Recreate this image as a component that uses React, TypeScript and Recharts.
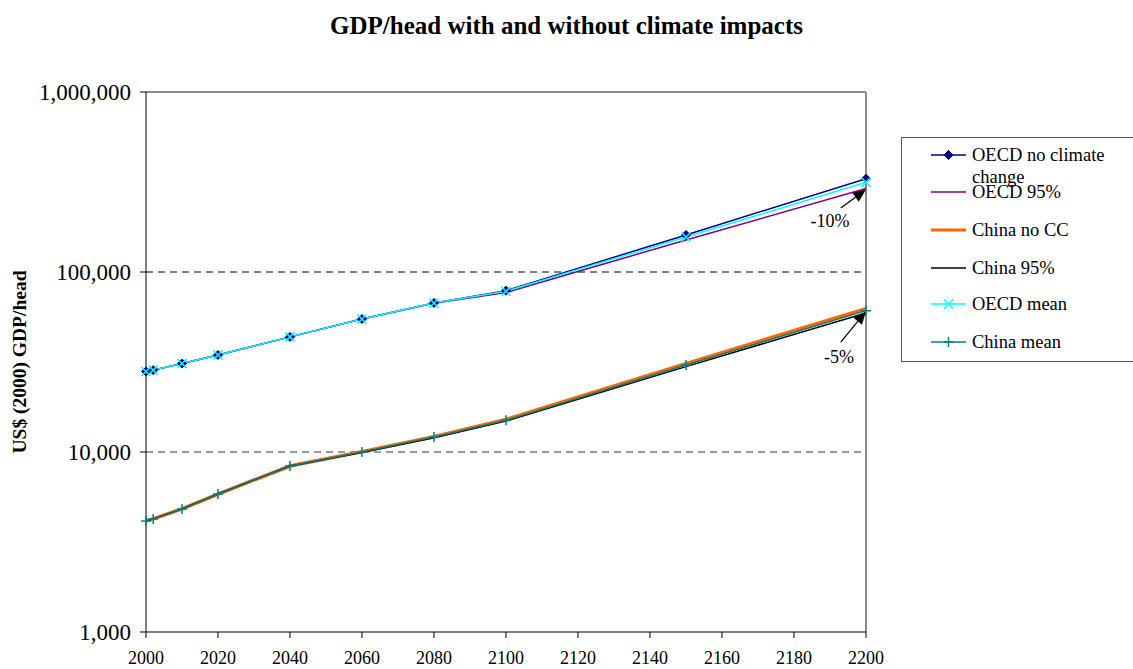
import {
  LineChart,
  Line,
  XAxis,
  YAxis,
  ReferenceLine,
  ReferenceDot,
} from 'recharts';

const years = [2000, 2002, 2010, 2020, 2040, 2060, 2080, 2100, 2150, 2200];
const oecdNoCC = [28000, 28500, 31000, 34600, 43600, 54800, 67300, 78800, 160600, 330000];
const oecd95 = [28000, 28500, 31000, 34600, 43600, 54800, 67000, 77000, 150600, 291000];
const chinaNoCC = [4140, 4250, 4830, 5840, 8360, 10050, 12150, 15150, 31000, 62500];
const china95 = [4140, 4250, 4830, 5840, 8360, 9950, 12000, 14850, 29800, 59200];
const oecdMean = [28000, 28500, 31000, 34600, 43600, 54800, 67200, 78200, 156400, 315000];
const chinaMean = [4140, 4250, 4830, 5840, 8360, 10000, 12100, 15000, 30400, 61000];

const yTicks = [1000, 10000, 100000, 1000000];
const xTicks = [2000, 2020, 2040, 2060, 2080, 2100, 2120, 2140, 2160, 2180, 2200];

const data = years.map((year, i) => ({
  year,
  oecdNoCC: oecdNoCC[i],
  oecd95: oecd95[i],
  chinaNoCC: chinaNoCC[i],
  china95: china95[i],
  oecdMean: oecdMean[i],
  chinaMean: chinaMean[i],
}));

const FONT = '"Liberation Serif", "Times New Roman", serif';

const Diamond = (props: any) => {
  const { cx, cy, index } = props;
  return (
    <polygon
      key={`d-${index}`}
      points={`${cx},${cy - 4.5} ${cx + 4.5},${cy} ${cx},${cy + 4.5} ${cx - 4.5},${cy}`}
      fill="#000080"
      stroke="#000080"
    />
  );
};

const Cross = (props: any) => {
  const { cx, cy, index } = props;
  const r = 4.5;
  return (
    <path
      key={`x-${index}`}
      d={`M${cx - r},${cy - r}L${cx + r},${cy + r}M${cx - r},${cy + r}L${cx + r},${cy - r}`}
      stroke="#00FFFF"
      strokeWidth={1.5}
    />
  );
};

const Plus = (props: any) => {
  const { cx, cy, index } = props;
  const r = 5;
  return (
    <path
      key={`p-${index}`}
      d={`M${cx - r},${cy}L${cx + r},${cy}M${cx},${cy - r}L${cx},${cy + r}`}
      stroke="#008080"
      strokeWidth={1.5}
    />
  );
};

// arrow pointing at the end values
const Arrow = (props: any) => {
  const { x1, y1, x2, y2 } = props;
  const ang = Math.atan2(y2 - y1, x2 - x1);
  const len = 13;
  const half = 5.5;
  const bx = x2 - len * Math.cos(ang);
  const by = y2 - len * Math.sin(ang);
  const px = -Math.sin(ang) * half;
  const py = Math.cos(ang) * half;
  return (
    <g>
      <line x1={x1} y1={y1} x2={bx} y2={by} stroke="#000" strokeWidth={1.2} />
      <polygon points={`${x2},${y2} ${bx + px},${by + py} ${bx - px},${by - py}`} fill="#000" />
    </g>
  );
};

const legendItems = [
  { name: 'OECD no climate change', color: '#000080', width: 1.5, marker: 'diamond', y: 155 },
  { name: 'OECD 95%', color: '#800080', width: 1.5, marker: '', y: 192 },
  { name: 'China no CC', color: '#FF6600', width: 3, marker: '', y: 230 },
  { name: 'China 95%', color: '#000000', width: 1.5, marker: '', y: 268 },
  { name: 'OECD mean', color: '#00FFFF', width: 1.5, marker: 'cross', y: 304 },
  { name: 'China mean', color: '#008080', width: 1.5, marker: 'plus', y: 342 },
];

const fmt = (v: number) => v.toLocaleString('en-US');

export default function App() {
  return (
    <div style={{ position: 'absolute', left: 0, top: 0, width: 1133, height: 669, background: '#fff', fontFamily: FONT }}>
      <div
        style={{
          position: 'absolute',
          left: 0,
          width: 1133,
          top: 11,
          textAlign: 'center',
          fontWeight: 'bold',
          fontSize: 25,
          lineHeight: '30px',
        }}
      >
        GDP/head with and without climate impacts
      </div>
      <LineChart
        width={1133}
        height={669}
        data={data}
        margin={{ top: 92, right: 267, bottom: 0, left: 0 }}
        style={{ position: 'absolute', left: 0, top: 0 }}
      >
        <XAxis
          dataKey="year"
          type="number"
          domain={[2000, 2200]}
          ticks={xTicks}
          height={37}
          stroke="#000"
          tickSize={6}
          tickMargin={13}
          tick={{ fill: '#000', fontSize: 18, fontFamily: FONT }}
          interval={0}
        />
        <YAxis
          type="number"
          scale="log"
          domain={[1000, 1000000]}
          ticks={yTicks}
          width={146}
          stroke="#000"
          tickSize={6}
          tickMargin={9}
          tickFormatter={fmt}
          tick={{ fill: '#000', fontSize: 23, fontFamily: FONT }}
          allowDataOverflow
          label={{
            value: 'US$ (2000) GDP/head',
            angle: -90,
            position: 'insideLeft',
            offset: 19,
            style: { fontWeight: 'bold', fontSize: 19.5, fill: '#000', fontFamily: FONT, textAnchor: 'middle' },
          }}
        />
        <ReferenceLine y={1000000} stroke="#8c8c8c" strokeWidth={2} />
        <ReferenceLine x={2200} stroke="#8c8c8c" strokeWidth={2} />
        <ReferenceLine y={100000} stroke="#000" strokeDasharray="7 5" />
        <ReferenceLine y={10000} stroke="#000" strokeDasharray="7 5" strokeWidth={0.8} />

        <Line dataKey="oecdNoCC" stroke="#000080" strokeWidth={1.5} dot={Diamond} isAnimationActive={false} />
        <Line dataKey="oecd95" stroke="#800080" strokeWidth={1.5} dot={false} isAnimationActive={false} />
        <Line dataKey="chinaNoCC" stroke="#FF6600" strokeWidth={3.5} dot={false} isAnimationActive={false} />
        <Line dataKey="china95" stroke="#000000" strokeWidth={1.5} dot={false} isAnimationActive={false} />
        <Line dataKey="oecdMean" stroke="#00FFFF" strokeWidth={1.5} dot={Cross} isAnimationActive={false} />
        <Line dataKey="chinaMean" stroke="#008080" strokeWidth={1.5} dot={Plus} isAnimationActive={false} />

        <ReferenceLine
          segment={[{ x: 2193, y: 226800 }, { x: 2200, y: 287000 }]}
          shape={Arrow}
        />
        <ReferenceLine
          segment={[{ x: 2193, y: 40800 }, { x: 2200, y: 60500 }]}
          shape={Arrow}
        />
        <ReferenceDot
          x={2190}
          y={192000}
          r={0}
          fill="none"
          stroke="none"
          label={{ value: '-10%', position: 'center', fill: '#000', fontSize: 18, fontFamily: FONT }}
        />
        <ReferenceDot
          x={2192.5}
          y={33700}
          r={0}
          fill="none"
          stroke="none"
          label={{ value: '-5%', position: 'center', fill: '#000', fontSize: 18, fontFamily: FONT }}
        />
      </LineChart>

      <div
        style={{
          position: 'absolute',
          left: 901,
          top: 137,
          width: 240,
          height: 225,
          border: '1.5px solid #555',
          boxSizing: 'border-box',
        }}
      />
      <svg style={{ position: 'absolute', left: 0, top: 0 }} width={1133} height={669} pointerEvents="none">
        {legendItems.map((it) => (
          <g key={it.name}>
            <line x1={931} x2={966} y1={it.y} y2={it.y} stroke={it.color} strokeWidth={it.width} />
            {it.marker === 'diamond' && Diamond({ cx: 948.5, cy: it.y, index: 'lg' })}
            {it.marker === 'cross' && Cross({ cx: 948.5, cy: it.y, index: 'lg' })}
            {it.marker === 'plus' && Plus({ cx: 948.5, cy: it.y, index: 'lg' })}
          </g>
        ))}
        <text x={972} y={155} dy="0.35em" fontSize={18.5} fontFamily={FONT}>OECD no climate</text>
        <text x={972} y={177} dy="0.35em" fontSize={18.5} fontFamily={FONT}>change</text>
        {legendItems.slice(1).map((it) => (
          <text key={it.name} x={972} y={it.y} dy="0.35em" fontSize={18.5} fontFamily={FONT}>
            {it.name}
          </text>
        ))}
      </svg>
    </div>
  );
}
